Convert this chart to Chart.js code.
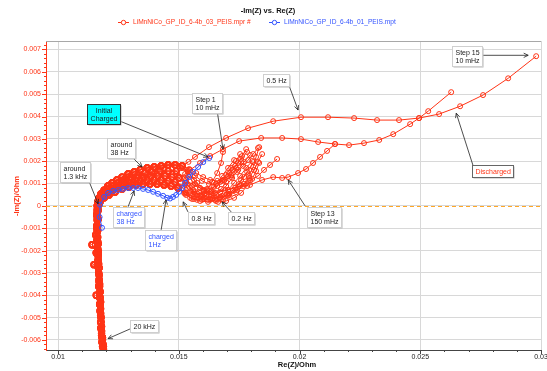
<!DOCTYPE html>
<html>
<head>
<meta charset="utf-8">
<script src="https://cdn.jsdelivr.net/npm/chart.js@4.4.1/dist/chart.umd.min.js"></script>
<style>
  html, body { margin: 0; padding: 0; background: #fff; }
</style>
</head>
<body>
<canvas id="nyquist" width="547" height="371"></canvas>
<script>
const FONT = "'Liberation Sans', Arial, sans-serif";
const RED = "rgb(255, 52, 22)";
const BLUE = "rgb(52, 84, 255)";

// axis ticks
const xTicks = [0.01, 0.015, 0.02, 0.025, 0.03];
const xTickLabels = ["0.01", "0.015", "0.02", "0.025", "0.03"];
const yTicks = [-0.006, -0.005, -0.004, -0.003, -0.002, -0.001, 0, 0.001, 0.002, 0.003, 0.004, 0.005, 0.006, 0.007];
const yTickLabels = ["-0.006", "-0.005", "-0.004", "-0.003", "-0.002", "-0.001", "0", "0.001", "0.002", "0.003", "0.004", "0.005", "0.006", "0.007"];

// [Re(Z), -Im(Z)] in Ohm
// inductive part (high frequency, 20 kHz at the bottom)
const stripA = [[0.0119, -0.0066], [0.01186, -0.0062], [0.01182, -0.00589], [0.01178, -0.00545], [0.01178, -0.005], [0.01174, -0.00442], [0.01174, -0.00384], [0.0117, -0.0033], [0.0117, -0.00277], [0.01166, -0.00223], [0.01166, -0.0017], [0.01162, -0.00116], [0.01162, -0.00063], [0.01162, -0.00018], [0.01164, 0.00009]];
const stripB = [[0.01186, -0.0066], [0.01182, -0.0061], [0.0118, -0.0056], [0.01176, -0.0052], [0.01174, -0.0047], [0.01172, -0.0041], [0.01168, -0.0036], [0.01168, -0.003], [0.01164, -0.0025], [0.01158, -0.0021], [0.01141, -0.00174], [0.01156, -0.0013], [0.0116, -0.0009], [0.0116, -0.0004], [0.01162, 0.0]];
const stripC = [[0.01192, -0.0066], [0.01188, -0.0063], [0.01184, -0.0059], [0.0118, -0.0054], [0.01176, -0.0048], [0.01176, -0.0043], [0.01172, -0.0039], [0.0117, -0.0034], [0.01149, -0.00263], [0.01166, -0.0021], [0.01164, -0.0016], [0.01164, -0.0011], [0.01166, -0.0006], [0.01166, -0.0002], [0.01168, 0.00005]];
const stripD = [[0.01188, -0.0064], [0.01184, -0.006], [0.0118, -0.0057], [0.01178, -0.0052], [0.01176, -0.0046], [0.01174, -0.0041], [0.01172, -0.0036], [0.0117, -0.0031], [0.01168, -0.0026], [0.01166, -0.002], [0.01164, -0.0014], [0.01162, -0.0009], [0.01162, -0.0003], [0.01166, 0.00012]];
const stripE = [[0.01184, -0.0063], [0.0118, -0.0058], [0.01178, -0.0055], [0.01176, -0.0049], [0.01172, -0.0044], [0.01158, -0.004], [0.01172, -0.0035], [0.01168, -0.0028], [0.01166, -0.0024], [0.01164, -0.0019], [0.01162, -0.0015], [0.0116, -0.001], [0.01162, -0.0005], [0.01164, -0.0001]];

// first semicircle
const arcA = [[0.0117, 0.00036], [0.01178, 0.00054], [0.01191, 0.00071], [0.01207, 0.00089], [0.01224, 0.00103], [0.01244, 0.00116], [0.01265, 0.00129], [0.0129, 0.00143], [0.01315, 0.00152], [0.0134, 0.00161], [0.01369, 0.0017], [0.01398, 0.00174], [0.01427, 0.00179], [0.01456, 0.00183], [0.01485, 0.00183], [0.01514, 0.00179]];
const arcB = [[0.0117, 0.00027], [0.01182, 0.00045], [0.01199, 0.00062], [0.0122, 0.00076], [0.01244, 0.00089], [0.01269, 0.00103], [0.01298, 0.00116], [0.01327, 0.00125], [0.01356, 0.00129], [0.01385, 0.00134], [0.01414, 0.00134], [0.01443, 0.00134], [0.01472, 0.00129], [0.01501, 0.00125]];
const arcC = [[0.01174, 0.00018], [0.01191, 0.00036], [0.01211, 0.00049], [0.01236, 0.00062], [0.01265, 0.00076], [0.01294, 0.00085], [0.01323, 0.00094], [0.01352, 0.00098], [0.01381, 0.00098], [0.0141, 0.00098], [0.01439, 0.00094], [0.01468, 0.00089], [0.01497, 0.0008]];
const arcD = [[0.01166, 0.00022], [0.01174, 0.0004], [0.01186, 0.00058], [0.01203, 0.00076], [0.01224, 0.00089], [0.01249, 0.00103], [0.01273, 0.00116], [0.01302, 0.00129], [0.01331, 0.00138], [0.0136, 0.00147], [0.01389, 0.00152], [0.01422, 0.00156], [0.01456, 0.00156], [0.01489, 0.00156]];
const arcE = [[0.0117, 0.00018], [0.01186, 0.0004], [0.01207, 0.00058], [0.01228, 0.00071], [0.01253, 0.00085], [0.01282, 0.00098], [0.01311, 0.00107], [0.0134, 0.00112], [0.01369, 0.00116], [0.01398, 0.00116], [0.01427, 0.00116], [0.01456, 0.00112], [0.01485, 0.00107]];

// low frequency part of each step
const step1 = [[0.01526, 0.00094], [0.01547, 0.00062], [0.01572, 0.0004], [0.01596, 0.00045], [0.01617, 0.00071], [0.01638, 0.00107], [0.01659, 0.00147], [0.01675, 0.00192], [0.01683, 0.00241]];
const step2 = [[0.01522, 0.00058], [0.01547, 0.00036], [0.01576, 0.00027], [0.01605, 0.00036], [0.0163, 0.00062], [0.01654, 0.00098], [0.01679, 0.00134], [0.01704, 0.0017], [0.01729, 0.00205]];
const step3 = [[0.01538, 0.00152], [0.01563, 0.00116], [0.01588, 0.0008], [0.01617, 0.00054], [0.01646, 0.00045], [0.01671, 0.00062], [0.01696, 0.00089], [0.01721, 0.00125], [0.01746, 0.00161], [0.0177, 0.00196], [0.01795, 0.00228]];
const step4 = [[0.0153, 0.00103], [0.01559, 0.00071], [0.01588, 0.00045], [0.01621, 0.00027], [0.01654, 0.00022], [0.01683, 0.00027], [0.01708, 0.00049], [0.01733, 0.0008], [0.01758, 0.00116], [0.01783, 0.00152]];
const step5 = [[0.01526, 0.00054], [0.01555, 0.00031], [0.01588, 0.00022], [0.01621, 0.00018], [0.0165, 0.00027], [0.01679, 0.00045], [0.01704, 0.00071], [0.01729, 0.00103], [0.01754, 0.00134], [0.01779, 0.0017], [0.01804, 0.00201]];
const step6 = [[0.01547, 0.00138], [0.01576, 0.00103], [0.01605, 0.00071], [0.01638, 0.00049], [0.01671, 0.0004], [0.01704, 0.00045], [0.01737, 0.00062], [0.01766, 0.00089], [0.01791, 0.00125], [0.01812, 0.00161], [0.01828, 0.00196], [0.01845, 0.00232]];
const step7 = [[0.01534, 0.00094], [0.01563, 0.00062], [0.01596, 0.0004], [0.0163, 0.00027], [0.01663, 0.00018], [0.01696, 0.00022], [0.01729, 0.00036], [0.01758, 0.00058], [0.01783, 0.00089], [0.01804, 0.00121], [0.0182, 0.00156], [0.01833, 0.00192]];
const step8 = [[0.0153, 0.00049], [0.01563, 0.00031], [0.01596, 0.00027], [0.0163, 0.00031], [0.01654, 0.00049], [0.01675, 0.00076], [0.01696, 0.00107], [0.01717, 0.00138], [0.01737, 0.0017], [0.01758, 0.00196]];
const step9 = [[0.01538, 0.00161], [0.01567, 0.00134], [0.01596, 0.00112], [0.01625, 0.00098], [0.01654, 0.00098], [0.01679, 0.00112], [0.01704, 0.00134], [0.01725, 0.00161], [0.01746, 0.00192], [0.01762, 0.00223], [0.01779, 0.00254]];
const step10 = [[0.0153, 0.00116], [0.01559, 0.00094], [0.01588, 0.0008], [0.01617, 0.00076], [0.01646, 0.00085], [0.01671, 0.00107], [0.01696, 0.00138], [0.01717, 0.0017], [0.01737, 0.00201], [0.01754, 0.00232]];
const step11 = [[0.0153, 0.00058], [0.01563, 0.0004], [0.01601, 0.00031], [0.01638, 0.00031], [0.01675, 0.0004], [0.01708, 0.00054], [0.01741, 0.00071], [0.0177, 0.00098], [0.01791, 0.00134], [0.01808, 0.00174], [0.0182, 0.00219], [0.01833, 0.00263]];
const step12 = [[0.01538, 0.00134], [0.01567, 0.00098], [0.01601, 0.00071], [0.0165, 0.00058], [0.01704, 0.00071], [0.01754, 0.00089], [0.01795, 0.00112], [0.01828, 0.00134], [0.01853, 0.00161], [0.01878, 0.00183], [0.01907, 0.0021]];
const step13 = [[0.01526, 0.00062], [0.01567, 0.00054], [0.0163, 0.00062], [0.01692, 0.00071], [0.01746, 0.00085], [0.01795, 0.00094], [0.01845, 0.00116], [0.01891, 0.00129], [0.01928, 0.00125], [0.01953, 0.00129], [0.01994, 0.00147], [0.02027, 0.00165], [0.02056, 0.00192], [0.02085, 0.00219], [0.02114, 0.00246], [0.02147, 0.00277]];
const step14 = [[0.01526, 0.00143], [0.01547, 0.00161], [0.01588, 0.00192], [0.0163, 0.00223], [0.01683, 0.00254], [0.0175, 0.0029], [0.01841, 0.00304], [0.01928, 0.00304], [0.02006, 0.00299], [0.02077, 0.00286], [0.02147, 0.00277], [0.02205, 0.00272], [0.02267, 0.00281], [0.0233, 0.00295], [0.02388, 0.00321], [0.02458, 0.00366], [0.02495, 0.00393], [0.02533, 0.00424], [0.02628, 0.00509]];
const step15 = [[0.0154, 0.00197], [0.01567, 0.00219], [0.01625, 0.00263], [0.01696, 0.00304], [0.01787, 0.00348], [0.01891, 0.00379], [0.02006, 0.00397], [0.02118, 0.00397], [0.02226, 0.00393], [0.02321, 0.00384], [0.02412, 0.00384], [0.02495, 0.00393], [0.02578, 0.00411], [0.02665, 0.00446], [0.0276, 0.00496], [0.02864, 0.00571], [0.0298, 0.0067]];
// further loops hidden in the dense middle of the fan
const step16 = [[0.01526, 0.00125], [0.01555, 0.00089], [0.01584, 0.00062], [0.01613, 0.00045], [0.01642, 0.00036], [0.01671, 0.00036], [0.017, 0.00049], [0.01725, 0.00071], [0.0175, 0.00098], [0.0177, 0.00129], [0.01791, 0.00161], [0.01808, 0.00196]];
const step17 = [[0.01522, 0.00089], [0.01547, 0.00067], [0.01576, 0.00054], [0.01605, 0.00054], [0.01634, 0.00067], [0.01659, 0.00089], [0.01683, 0.00116], [0.01708, 0.00147], [0.01733, 0.00179], [0.01758, 0.0021], [0.01783, 0.00241]];
const step18 = [[0.01543, 0.00165], [0.01572, 0.00147], [0.01601, 0.00129], [0.0163, 0.00116], [0.01659, 0.00112], [0.01688, 0.00116], [0.01717, 0.00129], [0.01741, 0.00152], [0.01766, 0.00179], [0.01787, 0.00205], [0.01808, 0.00232], [0.01828, 0.00259]];

// charged reference file
const charged = [[0.01182, -0.00098], [0.01172, -0.0005], [0.01174, 0.00005], [0.01191, 0.0004], [0.01207, 0.00058], [0.01228, 0.00067], [0.01249, 0.00071], [0.01269, 0.00076], [0.0129, 0.0008], [0.01311, 0.0008], [0.01331, 0.0008], [0.01352, 0.00076], [0.01373, 0.00071], [0.01394, 0.00063], [0.01414, 0.00054], [0.01435, 0.00045], [0.01452, 0.00036], [0.01464, 0.00033], [0.01476, 0.0004], [0.01489, 0.00049], [0.01501, 0.00063], [0.01514, 0.0008], [0.01526, 0.00103], [0.01543, 0.00129], [0.01559, 0.00152], [0.0158, 0.00174], [0.01601, 0.00196], [0.01626, 0.00214]];

const steps = [
    [stripA, arcB, step1], [stripB, arcC, step2], [stripC, arcA, step3],
    [stripD, arcD, step4], [stripE, arcE, step5], [stripA, arcA, step6],
    [stripB, arcB, step7], [stripC, arcC, step8], [stripD, arcD, step9],
    [stripE, arcE, step10], [stripA, arcC, step11], [stripB, arcA, step12],
    [stripC, arcC, step13], [stripD, arcB, step14], [stripE, arcA, step15],
    [stripA, arcD, step16], [stripC, arcE, step17], [stripB, arcA, step18],
];

// callouts: box top-left, line start and arrow tip in data units
const notes = [
    { text: ["Initial", "Charged"], box: [0.0112, 0.00455], from: [0.01257, 0.00379], tip: [0.01621, 0.00219], fill: "#00ffff", edge: "#333", center: true },
    { text: ["around", "38 Hz"], box: [0.01203, 0.00304], from: [0.01302, 0.00223], tip: [0.01348, 0.00174] },
    { text: ["around", "1.3 kHz"], box: [0.01008, 0.00196], from: [0.01124, 0.00121], tip: [0.01166, 0.00009] },
    { text: ["charged", "38 Hz"], box: [0.01228, -0.00004], from: [0.0129, -0.00004], tip: [0.01315, 0.00067], color: BLUE },
    { text: ["charged", "1Hz"], box: [0.0136, -0.00107], from: [0.01427, -0.00107], tip: [0.01447, 0.00027], color: BLUE },
    { text: ["0.8 Hz"], box: [0.01538, -0.00027], from: [0.01538, -0.00027], tip: [0.01518, 0.00018] },
    { text: ["0.2 Hz"], box: [0.01704, -0.00027], from: [0.01717, -0.00027], tip: [0.01679, 0.00018] },
    { text: ["Step 1", "10 mHz"], box: [0.01555, 0.00504], from: [0.01659, 0.00424], tip: [0.01683, 0.00254] },
    { text: ["0.5 Hz"], box: [0.01849, 0.00589], from: [0.01953, 0.00549], tip: [0.01994, 0.00429] },
    { text: ["Step 13", "150 mHz"], box: [0.02031, -0.00004], from: [0.02023, 0], tip: [0.01953, 0.00116] },
    { text: ["Step 15", "10 mHz"], box: [0.02632, 0.00714], from: [0.0276, 0.00674], tip: [0.02947, 0.00674] },
    { text: ["Discharged"], box: [0.02715, 0.00183], from: [0.02719, 0.00179], tip: [0.02649, 0.00415], color: RED, edge: "#666" },
    { text: ["20 kHz"], box: [0.01298, -0.00509], from: [0.01302, -0.00549], tip: [0.01207, -0.00594] },
];

const toXY = (pts) => pts.map(([x, y]) => ({ x, y }));

// the high frequency part is drawn with heavier markers, as in the source plot
const heavy = (c) => c.raw && c.raw.x < 0.0152;

function series(data, color, order, bold) {
    return {
        data: toXY(data),
        showLine: true,
        borderColor: color,
        borderWidth: 1,
        pointRadius: bold ? (c) => (heavy(c) ? 2.8 : 2.5) : 2.5,
        pointBorderWidth: bold ? (c) => (heavy(c) ? 1.7 : 1) : 1,
        pointBorderColor: color,
        pointBackgroundColor: "rgba(255,255,255,0)",
        order,
    };
}

function arrow(ctx, fx, fy, tx, ty) {
    const ang = Math.atan2(ty - fy, tx - fx);
    ctx.beginPath();
    ctx.moveTo(fx, fy);
    ctx.lineTo(tx, ty);
    ctx.moveTo(tx - 5 * Math.cos(ang - 0.45), ty - 5 * Math.sin(ang - 0.45));
    ctx.lineTo(tx, ty);
    ctx.lineTo(tx - 5 * Math.cos(ang + 0.45), ty - 5 * Math.sin(ang + 0.45));
    ctx.stroke();
}

function drawNote(ctx, x, y, n) {
    ctx.font = `7px ${FONT}`;
    const lh = 8.5;
    const w = Math.round(Math.max(...n.text.map((t) => ctx.measureText(t).width)) + 6);
    const h = Math.round(n.text.length * lh + 3);
    const bx = Math.round(x.getPixelForValue(n.box[0])) + 0.5;
    const by = Math.round(y.getPixelForValue(n.box[1])) + 0.5;

    ctx.strokeStyle = "#222";
    ctx.lineWidth = 0.8;
    arrow(ctx, x.getPixelForValue(n.from[0]), y.getPixelForValue(n.from[1]),
        x.getPixelForValue(n.tip[0]), y.getPixelForValue(n.tip[1]));

    ctx.fillStyle = "#b8b8b8";
    ctx.fillRect(bx + 1, by + 1, w, h);
    ctx.fillStyle = n.fill || "#fff";
    ctx.fillRect(bx, by, w, h);
    ctx.strokeStyle = n.edge || "#cfcfcf";
    ctx.lineWidth = 1;
    ctx.strokeRect(bx, by, w, h);

    ctx.fillStyle = n.color || "#222";
    ctx.textBaseline = "middle";
    ctx.textAlign = n.center ? "center" : "left";
    n.text.forEach((t, i) => {
        const tx = n.center ? bx + w / 2 : bx + 3;
        ctx.fillText(t, tx, by + 2 + lh / 2 + i * lh);
    });
}

const decor = {
    id: "decor",
    beforeDatasetsDraw(chart) {
        const { ctx, chartArea: a, scales: { y } } = chart;
        const y0 = Math.round(y.getPixelForValue(0)) + 0.5;
        ctx.save();
        ctx.strokeStyle = "#ffa726";
        ctx.lineWidth = 1;
        ctx.setLineDash([4, 3]);
        ctx.beginPath();
        ctx.moveTo(a.left, y0);
        ctx.lineTo(a.right, y0);
        ctx.stroke();
        ctx.restore();
    },
    afterDraw(chart) {
        const { ctx, chartArea: a, scales: { x, y } } = chart;
        ctx.save();

        // top frame
        ctx.strokeStyle = "#a8a8a8";
        ctx.lineWidth = 1;
        ctx.beginPath();
        ctx.moveTo(a.left, a.top + 0.5);
        ctx.lineTo(a.right, a.top + 0.5);
        ctx.stroke();

        // minor ticks on x
        ctx.strokeStyle = "#444";
        ctx.beginPath();
        for (let k = 10; k <= 30; k++) {
            const px = Math.round(x.getPixelForValue(k / 1000)) + 0.5;
            const len = k % 5 === 0 ? 4 : 2;
            ctx.moveTo(px, a.bottom);
            ctx.lineTo(px, a.bottom + len);
        }
        ctx.stroke();

        // minor ticks on y
        ctx.strokeStyle = RED;
        ctx.beginPath();
        for (let k = -32; k <= 36; k++) {
            const py = Math.round(y.getPixelForValue(k * 0.0002)) + 0.5;
            const len = k % 5 === 0 ? 4 : 2;
            ctx.moveTo(a.left - len, py);
            ctx.lineTo(a.left, py);
        }
        ctx.stroke();

        // title
        ctx.fillStyle = "#111";
        ctx.font = `bold 7.5px ${FONT}`;
        ctx.textAlign = "center";
        ctx.textBaseline = "middle";
        ctx.fillText("-Im(Z) vs. Re(Z)", 268, 11);

        // legend
        const items = [
            { x0: 118, color: RED, label: "LiMnNiCo_GP_ID_6-4b_03_PEIS.mpr #" },
            { x0: 269, color: BLUE, label: "LiMnNiCo_GP_ID_6-4b_01_PEIS.mpt" },
        ];
        ctx.font = `6.6px ${FONT}`;
        ctx.textAlign = "left";
        items.forEach(({ x0, color, label }) => {
            ctx.strokeStyle = color;
            ctx.lineWidth = 1;
            ctx.beginPath();
            ctx.moveTo(x0, 22.5);
            ctx.lineTo(x0 + 11, 22.5);
            ctx.stroke();
            ctx.fillStyle = "#fff";
            ctx.beginPath();
            ctx.arc(x0 + 5.5, 22.5, 2.2, 0, Math.PI * 2);
            ctx.fill();
            ctx.stroke();
            ctx.fillStyle = color;
            ctx.fillText(label, x0 + 15, 22.5);
        });

        // axis titles
        ctx.font = `bold 7.5px ${FONT}`;
        ctx.fillStyle = "#111";
        ctx.textAlign = "center";
        ctx.fillText("Re(Z)/Ohm", 297, 365);
        ctx.save();
        ctx.translate(17, 196);
        ctx.rotate(-Math.PI / 2);
        ctx.fillStyle = RED;
        ctx.fillText("-Im(Z)/Ohm", 0, 0);
        ctx.restore();

        notes.forEach((n) => drawNote(ctx, x, y, n));
        ctx.restore();
    },
};

new Chart(document.getElementById("nyquist"), {
    type: "scatter",
    data: {
        datasets: [
            series(charged, BLUE, 0, false),
            ...steps.map((parts) => series([].concat(...parts), RED, 1, true)),
        ],
    },
    options: {
        responsive: false,
        animation: false,
        events: [],
        layout: { padding: { top: 41, right: 6, left: 0, bottom: 0 } },
        plugins: { legend: { display: false }, title: { display: false }, tooltip: { enabled: false } },
        scales: {
            x: {
                type: "linear",
                min: 0.0095,
                max: 0.03,
                afterBuildTicks: (s) => { s.ticks = xTicks.map((v) => ({ value: v })); },
                afterFit: (s) => { s.height = 21; s.paddingLeft = 0; s.paddingRight = 0; },
                ticks: {
                    color: "#222",
                    font: { size: 7, family: FONT },
                    padding: 3,
                    maxRotation: 0,
                    autoSkip: false,
                    callback: (v, i) => xTickLabels[i],
                },
                grid: { color: "#d8d8d8", drawTicks: false },
                border: { color: "#444" },
            },
            y: {
                type: "linear",
                min: -0.00645,
                max: 0.00738,
                afterBuildTicks: (s) => { s.ticks = yTicks.map((v) => ({ value: v })); },
                afterFit: (s) => { s.width = 46; },
                ticks: {
                    color: RED,
                    font: { size: 7, family: FONT },
                    padding: 5,
                    autoSkip: false,
                    callback: (v, i) => yTickLabels[i],
                },
                grid: { color: "#d8d8d8", drawTicks: false },
                border: { color: RED },
            },
        },
    },
    plugins: [decor],
});
</script>
</body>
</html>
